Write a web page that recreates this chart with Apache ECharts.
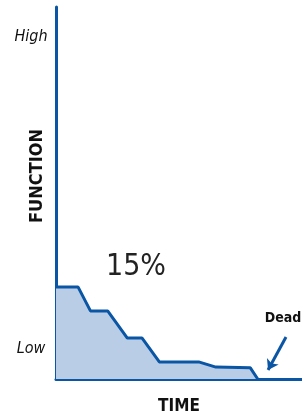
<!DOCTYPE html>
<html>
<head>
<meta charset="utf-8">
<script src="https://cdn.jsdelivr.net/npm/echarts@6/dist/echarts.min.js"></script>
<style>
  html, body { margin: 0; padding: 0; background: #fff; }
  #chart { width: 302px; height: 416px; }
</style>
</head>
<body>
<div id="chart"></div>
<script>
// function level over time (0..100 scale)
var timeVals = [0, 9, 14, 21, 29, 35, 42, 58, 61, 65, 79, 82];
var functionVals = [24.7, 24.7, 18.3, 18.3, 11.0, 11.0, 4.6, 4.6, 4.0, 3.2, 3.0, 0];
var levelLabels = ['High', 'Low'];
var levelValues = [92, 8];
var arrowFrom = [93.5, 11.3];
var arrowTo = [86.2, 2.4];
var percentText = '15%';
var deadText = 'Dead';

var blue = '#0a56a5';
var narrow = '"Liberation Sans Narrow", "DejaVu Sans Condensed", sans-serif';

const getOptionChart = () => {
  return {
    animation: false,
    grid: { left: 56, right: 0, top: 7, bottom: 37, containLabel: false, outerBoundsMode: 'none' },
    xAxis: {
      type: 'value',
      min: 0,
      max: 100,
      name: 'TIME',
      nameLocation: 'middle',
      nameGap: 19,
      nameTextStyle: { fontFamily: narrow, fontWeight: 'bold', fontSize: 17, color: '#111' },
      axisLine: { lineStyle: { color: blue, width: 3 } },
      axisTick: { show: false },
      axisLabel: { show: false },
      splitLine: { show: false }
    },
    yAxis: {
      type: 'value',
      min: 0,
      max: 100,
      axisLine: { show: true, lineStyle: { color: blue, width: 3 } },
      axisTick: { show: false },
      axisLabel: { show: false },
      splitLine: { show: false }
    },
    series: [{
      type: 'line',
      data: timeVals.map((t, i) => [t, functionVals[i]]),
      symbol: 'none',
      lineStyle: { color: blue, width: 3 },
      areaStyle: { color: '#b9cde6', opacity: 1 },
      markLine: {
        silent: true,
        symbol: ['none', 'arrow'],
        symbolSize: 10,
        label: { show: false },
        lineStyle: { color: blue, width: 3, type: 'solid' },
        data: [[{ coord: arrowFrom }, { coord: arrowTo }]]
      }
    }]
  };
};

const initCharts = () => {
  const chart = echarts.init(document.getElementById('chart'));
  chart.setOption(getOptionChart());

  // level labels placed with the y scale
  const texts = levelLabels.map((lab, i) => {
    const p = chart.convertToPixel({ gridIndex: 0 }, [0, levelValues[i]]);
    return {
      type: 'text', x: 31, y: p[1],
      style: { text: lab, fontFamily: narrow, fontStyle: 'italic', fontSize: 16, fill: '#111', align: 'center', verticalAlign: 'middle' }
    };
  });
  texts.push({
    type: 'text', x: 37, y: 176, rotation: Math.PI / 2,
    style: { text: 'FUNCTION', fontFamily: narrow, fontWeight: 'bold', fontSize: 18, fill: '#111', align: 'center', verticalAlign: 'middle' }
  });
  texts.push({
    type: 'text', x: 136, y: 267,
    style: { text: percentText, fontFamily: narrow, fontSize: 30, fill: '#222', align: 'center', verticalAlign: 'middle' }
  });
  texts.push({
    type: 'text', x: 283, y: 318,
    style: { text: deadText, fontFamily: narrow, fontWeight: 'bold', fontSize: 14, fill: '#111', align: 'center', verticalAlign: 'middle' }
  });
  chart.setOption({ graphic: texts });
};

window.addEventListener('load', () => {
  initCharts();
});
</script>
</body>
</html>
